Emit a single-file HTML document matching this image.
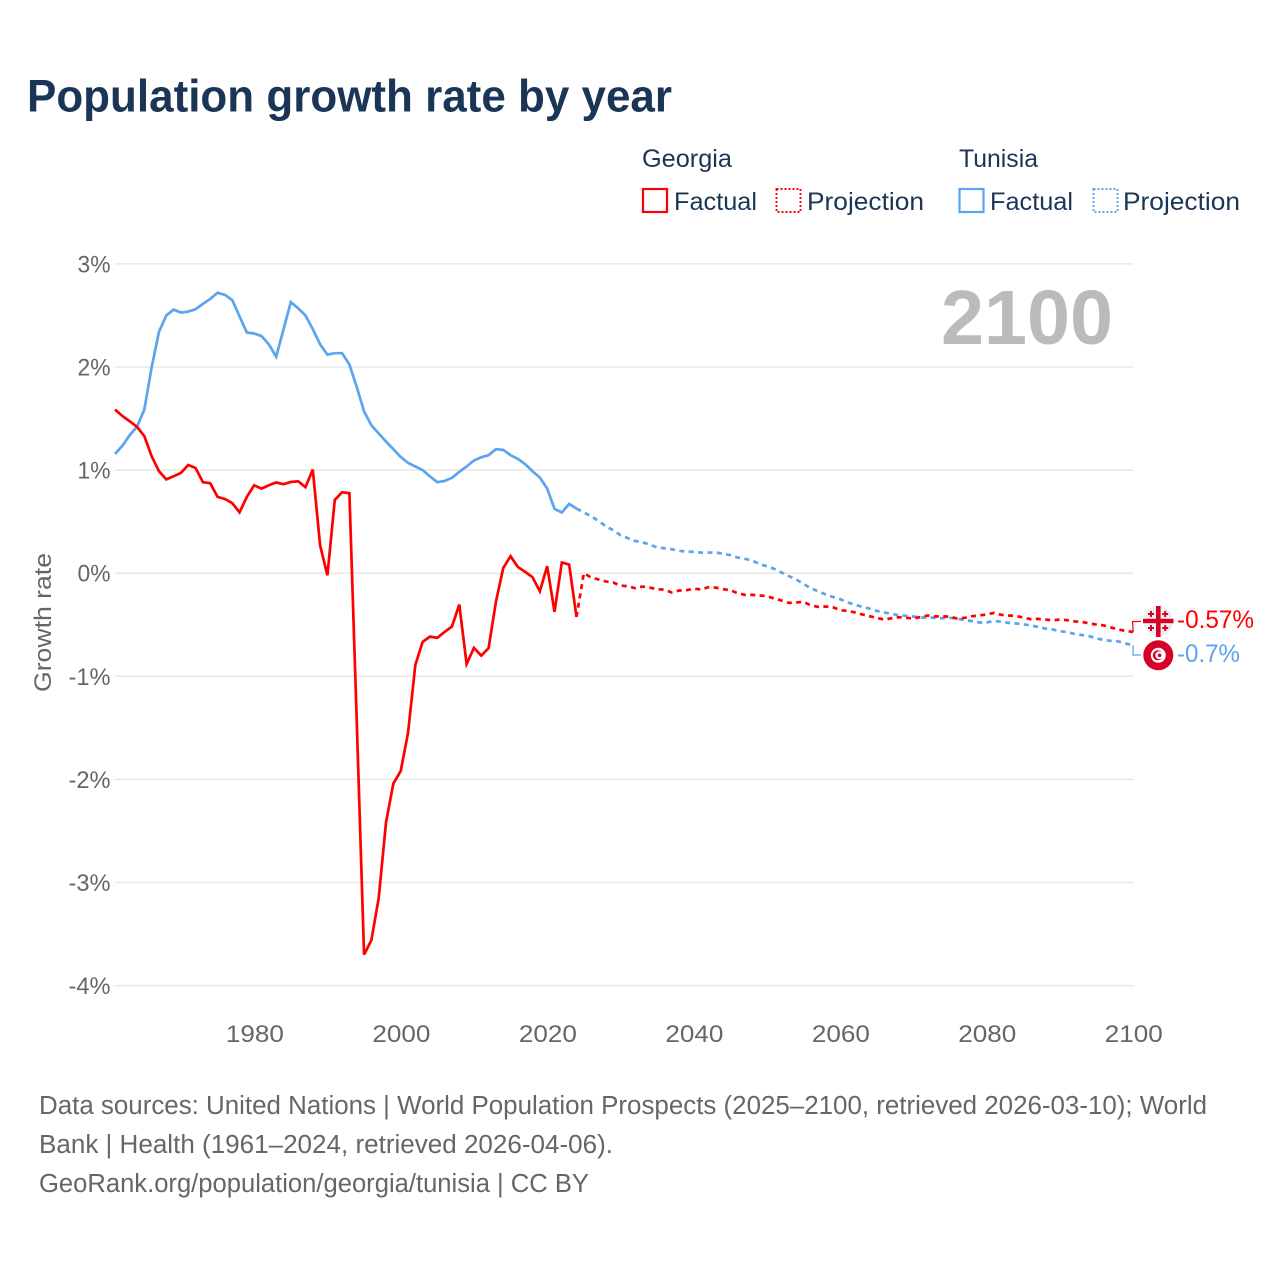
<!DOCTYPE html>
<html lang="en">
<head>
<meta charset="utf-8">
<title>Population growth rate by year</title>
<style>
html,body{margin:0;padding:0;background:#fff;width:1280px;height:1280px;overflow:hidden}
svg{display:block}
text{font-family:"Liberation Sans",sans-serif}
.legend{font-size:25px;fill:#1a3556}
.tick{font-size:24.5px;fill:#666}
.foot{font-size:25.5px;fill:#666}
</style>
</head>
<body>
<svg id="chart" xmlns="http://www.w3.org/2000/svg" width="1280" height="1280" viewBox="0 0 1280 1280">
  <rect width="1280" height="1280" fill="#fff"/>
  <text x="27" y="111.500" font-size="45" font-weight="700" fill="#1a3556" textLength="645" lengthAdjust="spacingAndGlyphs">Population growth rate by year</text>

  <g>
    <text class="legend" x="642" y="167" textLength="90" lengthAdjust="spacingAndGlyphs">Georgia</text>
    <text class="legend" x="959" y="167" textLength="79" lengthAdjust="spacingAndGlyphs">Tunisia</text>
    <g>
      <rect x="643" y="189" width="24" height="23" fill="none" stroke="#ff0000" stroke-width="2.2"/>
      <text class="legend" x="674" y="210" textLength="83" lengthAdjust="spacingAndGlyphs">Factual</text>
    </g>
    <g>
      <rect x="776.500" y="189" width="24" height="23" fill="none" stroke="#ff0000" stroke-width="1.9" stroke-dasharray="2 2"/>
      <text class="legend" x="807" y="210" textLength="117" lengthAdjust="spacingAndGlyphs">Projection</text>
    </g>
    <g>
      <rect x="959.500" y="189" width="24" height="23" fill="none" stroke="#5ba4ee" stroke-width="2.2"/>
      <text class="legend" x="990" y="210" textLength="83" lengthAdjust="spacingAndGlyphs">Factual</text>
    </g>
    <g>
      <rect x="1093.500" y="189" width="24" height="23" fill="none" stroke="#5ba4ee" stroke-width="1.9" stroke-dasharray="2 2"/>
      <text class="legend" x="1123" y="210" textLength="117" lengthAdjust="spacingAndGlyphs">Projection</text>
    </g>
  </g>

  <g id="grid"></g>
  <g id="yTicks"></g>
  <g id="xTicks"></g>

  <text class="tick" transform="translate(51 622.500) rotate(-90)" text-anchor="middle" textLength="139" lengthAdjust="spacingAndGlyphs">Growth rate</text>
  <text x="941" y="344" font-size="77" font-weight="700" fill="#bbbbbb" textLength="172" lengthAdjust="spacingAndGlyphs">2100</text>

  <g id="series"></g>
  <g id="endLabels"></g>

  <g>
    <circle cx="1158.300" cy="621" r="15" fill="#eeeeee"/>
    <rect x="1156" y="606" width="4.600" height="31" fill="#d80027"/>
    <rect x="1143" y="618.800" width="30.500" height="4.400" fill="#d80027"/>
    <path fill="#d80027" d="M1150 611h2v2h2v2h-2v2h-2v-2h-2v-2h2zM1164.200 611h2v2h2v2h-2v2h-2v-2h-2v-2h2zM1150 625h2v2h2v2h-2v2h-2v-2h-2v-2h2zM1164.200 625h2v2h2v2h-2v2h-2v-2h-2v-2h2z"/>
  </g>
  <g>
    <circle cx="1158.300" cy="655.300" r="15" fill="#d80027"/>
    <circle cx="1158.300" cy="655.300" r="7.500" fill="#ffffff"/>
    <circle cx="1157.800" cy="655.300" r="5" fill="#d80027"/>
    <circle cx="1159.200" cy="655.300" r="3.900" fill="#ffffff"/>
    <circle cx="1159.600" cy="655.300" r="1.800" fill="#d80027"/>
  </g>

  <g>
    <text class="foot" x="39" y="1114" textLength="1168" lengthAdjust="spacingAndGlyphs">Data sources: United Nations | World Population Prospects (2025–2100, retrieved 2026-03-10); World</text>
    <text class="foot" x="39" y="1153" textLength="574" lengthAdjust="spacingAndGlyphs">Bank | Health (1961–2024, retrieved 2026-04-06).</text>
    <text class="foot" x="39" y="1192" textLength="550" lengthAdjust="spacingAndGlyphs">GeoRank.org/population/georgia/tunisia | CC BY</text>
  </g>
</svg>

<script>
const yTickValues = [3, 2, 1, 0, -1, -2, -3, -4];
const xTickValues = [1980, 2000, 2020, 2040, 2060, 2080, 2100];
const factualStartYear = 1961;
const projectionStartYear = 2025;

const georgiaFactual = [
  1.587, 1.525, 1.474, 1.42, 1.33, 1.135, 0.99, 0.91, 0.94, 0.973,
  1.05, 1.02, 0.883, 0.873, 0.74, 0.72, 0.68, 0.59, 0.74, 0.853,
  0.82, 0.853, 0.88, 0.863, 0.885, 0.892, 0.834, 1.005, 0.27, -0.02,
  0.71, 0.785, 0.776, -1.43, -3.70, -3.56, -3.15, -2.415, -2.04, -1.92,
  -1.55, -0.89, -0.666, -0.615, -0.627, -0.57, -0.517, -0.304, -0.88, -0.724,
  -0.80, -0.727, -0.278, 0.05, 0.165, 0.06, 0.013, -0.039, -0.175, 0.068,
  -0.375, 0.104, 0.084, -0.424
];
const tunisiaFactual = [
  1.157, 1.235, 1.338, 1.42, 1.587, 1.995, 2.34, 2.50, 2.557, 2.528,
  2.538, 2.56, 2.612, 2.66, 2.72, 2.70, 2.65, 2.49, 2.335, 2.325,
  2.30, 2.22, 2.10, 2.364, 2.63, 2.57, 2.50, 2.367, 2.22, 2.12,
  2.134, 2.134, 2.024, 1.807, 1.57, 1.435, 1.355, 1.277, 1.203, 1.128,
  1.07, 1.035, 1.0, 0.938, 0.883, 0.895, 0.925, 0.983, 1.035, 1.093,
  1.125, 1.145, 1.203, 1.196, 1.145, 1.109, 1.057, 0.989, 0.928, 0.82,
  0.624, 0.589, 0.672, 0.627
];
const georgiaProjection = [
  0, -0.042, -0.06, -0.08, -0.09, -0.12, -0.126, -0.145, -0.13, -0.14,
  -0.155, -0.16, -0.187, -0.168, -0.165, -0.15, -0.158, -0.136, -0.14, -0.155,
  -0.165, -0.194, -0.21, -0.21, -0.216, -0.223, -0.245, -0.265, -0.288, -0.284,
  -0.278, -0.313, -0.327, -0.323, -0.33, -0.359, -0.366, -0.38, -0.40, -0.417,
  -0.433, -0.45, -0.437, -0.427, -0.433, -0.44, -0.424, -0.41, -0.42, -0.417,
  -0.424, -0.44, -0.433, -0.417, -0.41, -0.40, -0.385, -0.404, -0.41, -0.415,
  -0.43, -0.446, -0.443, -0.45, -0.456, -0.45, -0.456, -0.468, -0.472, -0.488,
  -0.498, -0.507, -0.527, -0.546, -0.56, -0.57
];
const tunisiaProjection = [
  0.59, 0.553, 0.507, 0.456, 0.417, 0.369, 0.34, 0.313, 0.30, 0.278,
  0.249, 0.242, 0.233, 0.216, 0.21, 0.207, 0.20, 0.20, 0.20, 0.19,
  0.175, 0.152, 0.139, 0.123, 0.087, 0.068, 0.042, 0.007, -0.029, -0.061,
  -0.104, -0.148, -0.175, -0.207, -0.23, -0.252, -0.284, -0.304, -0.327, -0.343,
  -0.366, -0.381, -0.395, -0.407, -0.414, -0.42, -0.43, -0.43, -0.433, -0.437,
  -0.433, -0.443, -0.453, -0.466, -0.478, -0.478, -0.463, -0.47, -0.482, -0.488,
  -0.495, -0.507, -0.52, -0.537, -0.546, -0.563, -0.572, -0.589, -0.60, -0.611,
  -0.633, -0.647, -0.657, -0.662, -0.682, -0.70
];

const NS = 'http://www.w3.org/2000/svg';
const RED = '#ff0000';
const BLUE = '#5ba4ee';

function xScale(year) { return 115 + (year - 1961) * (1133.2 - 115) / (2100 - 1961); }
function xTickScale(year) { return 115.8 + (year - 1961) * (1133.8 - 115.8) / (2100 - 1961); }
function yScale(value) { return 573.2 - value * 103.1; }

function make(tag, attrs, parent, text) {
  const el = document.createElementNS(NS, tag);
  Object.keys(attrs).forEach(function (k) { el.setAttribute(k, attrs[k]); });
  if (text !== undefined) { el.textContent = text; }
  parent.appendChild(el);
  return el;
}

const gridGroup = document.getElementById('grid');
const yTickGroup = document.getElementById('yTicks');
yTickValues.forEach(function (v) {
  const line = make('line', { x1: 115, x2: 1133.2, y1: yScale(v), y2: yScale(v), stroke: '#e8e8e8', 'stroke-width': 1.5 }, gridGroup);
  
  
  const label = v + '%';
  const t = make('text', { class: 'tick', x: 110.5, y: yScale(v) + 8.5, 'text-anchor': 'end', textLength: label.length === 2 ? 33 : 42, lengthAdjust: 'spacingAndGlyphs' }, yTickGroup, label);
  
  
});

const xTickGroup = document.getElementById('xTicks');
xTickValues.forEach(function (yr) {
  const t = make('text', { class: 'tick', x: xTickScale(yr), y: 1042, 'text-anchor': 'middle', textLength: 58, lengthAdjust: 'spacingAndGlyphs' }, xTickGroup, String(yr));
  
  
});

function linePath(startYear, values) {
  return values.map(function (v, i) {
    return (i ? 'L' : 'M') + xScale(startYear + i).toFixed(2) + ' ' + yScale(v).toFixed(2);
  }).join('');
}

const seriesGroup = document.getElementById('series');

const tunisiaProjectionLine = make('path', {
  d: linePath(projectionStartYear - 1, [tunisiaFactual[tunisiaFactual.length - 1]].concat(tunisiaProjection)),
  fill: 'none', stroke: BLUE, 'stroke-width': 2.7, 'stroke-dasharray': '5 4.4'
}, seriesGroup);



const georgiaProjectionLine = make('path', {
  d: linePath(projectionStartYear - 1, [georgiaFactual[georgiaFactual.length - 1]].concat(georgiaProjection)),
  fill: 'none', stroke: RED, 'stroke-width': 2.7, 'stroke-dasharray': '5 4.4'
}, seriesGroup);



const tunisiaFactualLine = make('path', {
  d: linePath(factualStartYear, tunisiaFactual),
  fill: 'none', stroke: BLUE, 'stroke-width': 2.7, 'stroke-linejoin': 'miter'
}, seriesGroup);



const georgiaFactualLine = make('path', {
  d: linePath(factualStartYear, georgiaFactual),
  fill: 'none', stroke: RED, 'stroke-width': 2.7, 'stroke-linejoin': 'miter'
}, seriesGroup);



const endGroup = document.getElementById('endLabels');
const georgiaEnd = georgiaProjection[georgiaProjection.length - 1];
const tunisiaEnd = tunisiaProjection[tunisiaProjection.length - 1];

const georgiaConnector = make('path', {
  d: 'M' + xScale(2100) + ' ' + yScale(georgiaEnd) + 'L1132.500 621.500H1141',
  fill: 'none', stroke: RED, 'stroke-width': 1.2
}, endGroup);



const tunisiaConnector = make('path', {
  d: 'M' + xScale(2100) + ' ' + yScale(tunisiaEnd) + 'L1133 655H1141',
  fill: 'none', stroke: BLUE, 'stroke-width': 1.2
}, endGroup);



const georgiaValue = make('text', { x: 1177, y: 628, 'font-size': 25, fill: RED, textLength: 77, lengthAdjust: 'spacingAndGlyphs' }, endGroup, georgiaEnd + '%');



const tunisiaValue = make('text', { x: 1177, y: 662, 'font-size': 25, fill: BLUE, textLength: 63, lengthAdjust: 'spacingAndGlyphs' }, endGroup, tunisiaEnd + '%');


</script>
</body>
</html>
